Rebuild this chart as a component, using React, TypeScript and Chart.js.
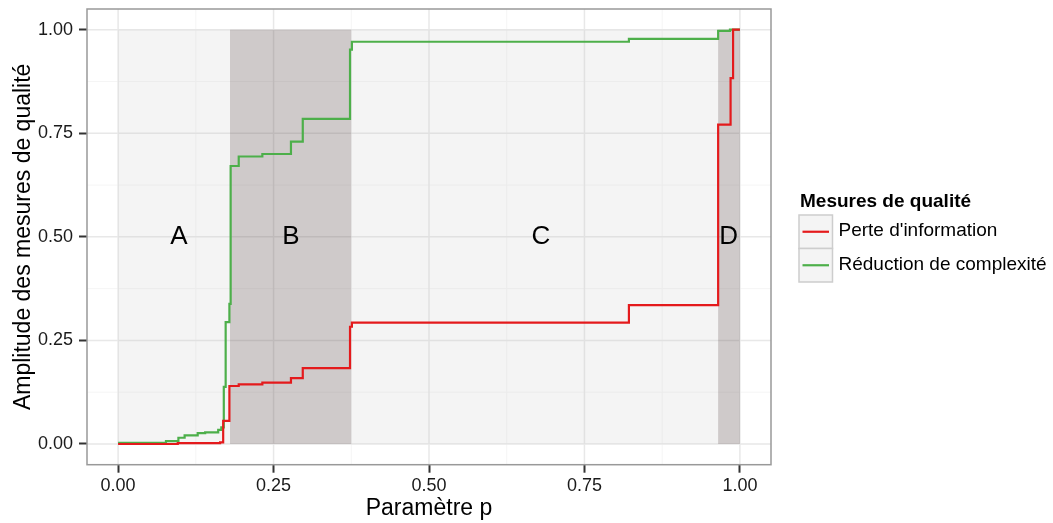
import React, { useEffect, useRef } from "react";
import { Chart, registerables } from "chart.js";

Chart.register(...registerables);

// ---- Data ----
const perteX = [0, 0.096, 0.164, 0.169, 0.179, 0.194, 0.232, 0.278, 0.297, 0.373, 0.376, 0.8215, 0.965, 0.985, 0.989, 1.0];
const perteY = [0, 0.002, 0.004, 0.056, 0.140, 0.144, 0.148, 0.159, 0.183, 0.283, 0.293, 0.335, 0.771, 0.883, 1.0, 1.0];

const reducX = [0, 0.077, 0.097, 0.107, 0.128, 0.14, 0.161, 0.166, 0.170, 0.173, 0.179, 0.181, 0.194, 0.232, 0.278, 0.297, 0.373, 0.376, 0.8215, 0.965, 0.984, 1.0];
const reducY = [0.003, 0.007, 0.015, 0.021, 0.026, 0.028, 0.034, 0.040, 0.138, 0.294, 0.338, 0.671, 0.694, 0.700, 0.730, 0.785, 0.952, 0.971, 0.978, 0.997, 1.0, 1.0];

const seriesNames = ["Perte d'information", "Réduction de complexité"];
const seriesColors = ["#E41A1C", "#4DAF4A"];
const legendTitle = "Mesures de qualité";

const majorTicks = [0, 0.25, 0.5, 0.75, 1];
const minorTicks = [0.125, 0.375, 0.625, 0.875];

const regionStarts = [0, 0.18, 0.375, 0.965];
const regionEnds = [0.18, 0.375, 0.965, 1.0];
const regionLabels = ["A", "B", "C", "D"];
const regionLabelX = [0.098, 0.278, 0.68, 0.982];
const regionLabelY = 0.5;
const regionFills = [
  "rgba(200,200,200,0.2)",
  "rgba(110,95,95,0.33)",
  "rgba(200,200,200,0.2)",
  "rgba(110,95,95,0.33)",
];

const xTitle = "Paramètre p";
const yTitle = "Amplitude des mesures de qualité";

const FONT = "'Liberation Sans', Arial, Helvetica, sans-serif";

export default function App() {
  const canvasRef = useRef<HTMLCanvasElement | null>(null);

  useEffect(() => {
    document.body.style.margin = "0";
    const canvas = canvasRef.current;
    if (!canvas) return;

    const backdrop = {
      id: "backdrop",
      beforeDatasetsDraw(chart: any) {
        const { ctx, chartArea } = chart;
        const xs = chart.scales.x;
        const ys = chart.scales.y;
        ctx.save();
        ctx.beginPath();
        ctx.rect(chartArea.left, chartArea.top, chartArea.right - chartArea.left, chartArea.bottom - chartArea.top);
        ctx.clip();
        ctx.fillStyle = "#FFFFFF";
        ctx.fillRect(chartArea.left, chartArea.top, chartArea.right - chartArea.left, chartArea.bottom - chartArea.top);
        // minor grid
        ctx.strokeStyle = "#F5F5F5";
        ctx.lineWidth = 1;
        for (const v of minorTicks) {
          const px = xs.getPixelForValue(v);
          const py = ys.getPixelForValue(v);
          ctx.beginPath();
          ctx.moveTo(px, chartArea.top);
          ctx.lineTo(px, chartArea.bottom);
          ctx.moveTo(chartArea.left, py);
          ctx.lineTo(chartArea.right, py);
          ctx.stroke();
        }
        // major grid
        ctx.strokeStyle = "#E8E8E8";
        ctx.lineWidth = 1.5;
        for (const v of majorTicks) {
          const px = xs.getPixelForValue(v);
          const py = ys.getPixelForValue(v);
          ctx.beginPath();
          ctx.moveTo(px, chartArea.top);
          ctx.lineTo(px, chartArea.bottom);
          ctx.moveTo(chartArea.left, py);
          ctx.lineTo(chartArea.right, py);
          ctx.stroke();
        }
        // regions
        for (let i = 0; i < regionStarts.length; i++) {
          const x0 = xs.getPixelForValue(regionStarts[i]);
          const x1 = xs.getPixelForValue(regionEnds[i]);
          const y0 = ys.getPixelForValue(1);
          const y1 = ys.getPixelForValue(0);
          ctx.fillStyle = regionFills[i];
          ctx.fillRect(x0, y0, x1 - x0, y1 - y0);
        }
        ctx.restore();
      },
      afterDatasetsDraw(chart: any) {
        const { ctx, chartArea } = chart;
        const xs = chart.scales.x;
        const ys = chart.scales.y;
        ctx.save();
        ctx.fillStyle = "#000000";
        ctx.font = `26px ${FONT}`;
        ctx.textAlign = "center";
        ctx.textBaseline = "middle";
        for (let i = 0; i < regionLabels.length; i++) {
          ctx.fillText(regionLabels[i], xs.getPixelForValue(regionLabelX[i]), ys.getPixelForValue(regionLabelY));
        }
        // panel border
        ctx.strokeStyle = "#999999";
        ctx.lineWidth = 1.5;
        ctx.strokeRect(chartArea.left, chartArea.top, chartArea.right - chartArea.left, chartArea.bottom - chartArea.top);
        ctx.restore();
      },
      afterDraw(chart: any) {
        const { ctx } = chart;
        ctx.save();
        // legend title
        ctx.fillStyle = "#000000";
        ctx.font = `bold 19px ${FONT}`;
        ctx.textAlign = "left";
        ctx.textBaseline = "alphabetic";
        ctx.fillText(legendTitle, 800, 206.5);
        const keyLeft = 799;
        const keySize = 33.5;
        const keyTop = 215;
        for (let i = 0; i < seriesNames.length; i++) {
          const top = keyTop + i * keySize;
          ctx.fillStyle = "#F4F4F4";
          ctx.fillRect(keyLeft, top, keySize, keySize);
          ctx.strokeStyle = "#CDCDCD";
          ctx.lineWidth = 1.5;
          ctx.strokeRect(keyLeft, top, keySize, keySize);
          ctx.strokeStyle = seriesColors[i];
          ctx.lineWidth = 2.2;
          ctx.beginPath();
          ctx.moveTo(keyLeft + 3.5, top + keySize / 2);
          ctx.lineTo(keyLeft + keySize - 3.5, top + keySize / 2);
          ctx.stroke();
          ctx.fillStyle = "#000000";
          ctx.font = `19px ${FONT}`;
          ctx.textBaseline = "middle";
          ctx.fillText(seriesNames[i], 838.5, top + keySize / 2 - 0.5);
        }
        ctx.restore();
      },
    };

    const fmt = (v: any) => Number(v).toFixed(2);

    const chart = new Chart(canvas, {
      type: "line",
      data: {
        datasets: [
          {
            label: seriesNames[0],
            data: perteX.map((x, i) => ({ x, y: perteY[i] })),
            borderColor: seriesColors[0],
            backgroundColor: seriesColors[0],
            borderWidth: 2.2,
            pointRadius: 0,
            fill: false,
            stepped: "before",
          },
          {
            label: seriesNames[1],
            data: reducX.map((x, i) => ({ x, y: reducY[i] })),
            borderColor: seriesColors[1],
            backgroundColor: seriesColors[1],
            borderWidth: 2.2,
            pointRadius: 0,
            fill: false,
            stepped: "before",
          },
        ],
      },
      options: {
        animation: false,
        responsive: false,
        maintainAspectRatio: false,
        layout: { padding: { top: 9, right: 282, left: 0, bottom: 0 } },
        plugins: {
          legend: { display: false },
          tooltip: { enabled: false },
        },
        scales: {
          x: {
            type: "linear",
            min: -0.05,
            max: 1.05,
            afterBuildTicks: (s: any) => {
              s.ticks = majorTicks.map((v) => ({ value: v }));
            },
            afterFit: (s: any) => {
              s.height = 58.3;
              s.paddingLeft = 0;
              s.paddingRight = 0;
            },
            ticks: {
              callback: fmt,
              font: { family: FONT, size: 18 },
              color: "#1a1a1a",
              padding: 3,
              maxRotation: 0,
              autoSkip: false,
            },
            grid: {
              drawOnChartArea: false,
              drawTicks: true,
              tickLength: 8,
              tickWidth: 2,
              tickColor: "#333333",
            },
            border: { display: false },
            title: {
              display: true,
              text: xTitle,
              font: { family: FONT, size: 23 },
              color: "#000000",
              padding: { top: 0, bottom: 1 },
            },
          },
          y: {
            type: "linear",
            min: -0.05,
            max: 1.05,
            afterBuildTicks: (s: any) => {
              s.ticks = majorTicks.map((v) => ({ value: v }));
            },
            afterFit: (s: any) => {
              s.width = 87;
              s.paddingTop = 0;
              s.paddingBottom = 0;
            },
            ticks: {
              callback: fmt,
              font: { family: FONT, size: 18 },
              color: "#1a1a1a",
              padding: 6,
              autoSkip: false,
            },
            grid: {
              drawOnChartArea: false,
              drawTicks: true,
              tickLength: 8,
              tickWidth: 2,
              tickColor: "#333333",
            },
            border: { display: false },
            title: {
              display: true,
              text: yTitle,
              font: { family: FONT, size: 23 },
              color: "#000000",
              padding: { top: 10, bottom: 0 },
            },
          },
        },
      },
      plugins: [backdrop],
    } as any);

    return () => {
      chart.destroy();
    };
  }, []);

  return (
    <div style={{ width: 1053, height: 523, position: "relative" }}>
      <canvas ref={canvasRef} width={1053} height={523} style={{ display: "block", width: 1053, height: 523 }} />
    </div>
  );
}
